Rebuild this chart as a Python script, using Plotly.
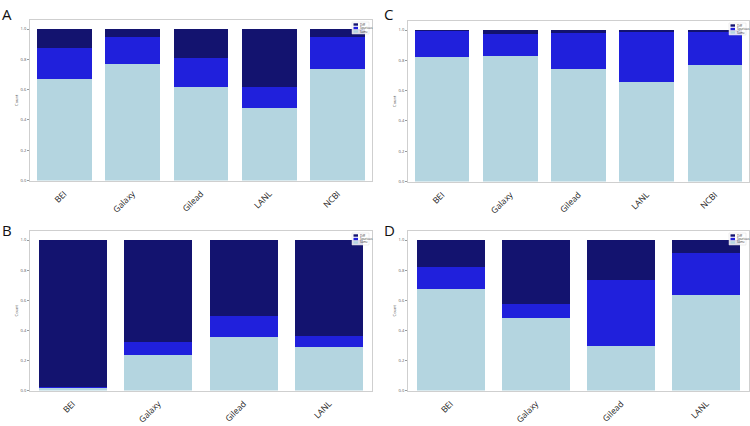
import plotly.graph_objects as go

# ---- data ----
series_names = ["Same", "Spurious", "Diff"]  # bottom -> top
colors = ["#b4d5e0", "#2020dc", "#13136f"]

cats_A = ["BEI", "Galaxy", "Gilead", "LANL", "NCBI"]
same_A = [0.67, 0.768, 0.62, 0.48, 0.735]
spur_A = [0.205, 0.18, 0.19, 0.14, 0.215]

cats_C = ["BEI", "Galaxy", "Gilead", "LANL", "NCBI"]
same_C = [0.823, 0.828, 0.74, 0.655, 0.772]
spur_C = [0.172, 0.145, 0.238, 0.333, 0.218]

cats_B = ["BEI", "Galaxy", "Gilead", "LANL"]
same_B = [0.018, 0.235, 0.355, 0.29]
spur_B = [0.004, 0.085, 0.14, 0.07]

cats_D = ["BEI", "Galaxy", "Gilead", "LANL"]
same_D = [0.675, 0.48, 0.295, 0.635]
spur_D = [0.145, 0.095, 0.44, 0.28]

panel_letters = ["A", "C", "B", "D"]

def rest(a, b):
    return [round(1 - x - y, 4) for x, y in zip(a, b)]

panels = [
    (cats_A, same_A, spur_A),
    (cats_C, same_C, spur_C),
    (cats_B, same_B, spur_B),
    (cats_D, same_D, spur_D),
]

W, H = 750, 426
def fx(px): return px / W
def fy(py): return 1 - py / H

# pixel boxes (left, right, top, bottom)
boxes = [
    (30, 372, 20, 180.5),
    (408, 749, 21, 181.5),
    (30, 372, 231, 390.5),
    (408, 749, 231, 390.5),
]

fig = go.Figure()
layout = dict(
    width=W, height=H, margin=dict(l=0, r=0, t=0, b=0, autoexpand=False),
    plot_bgcolor="white", paper_bgcolor="white",
    barmode="stack", bargap=0.2, showlegend=False,
    font=dict(family="Open Sans, sans-serif"),
)
shapes = []
annotations = []

for i, (cats, same, spur) in enumerate(panels):
    n = i + 1
    xa = "x" if n == 1 else f"x{n}"
    ya = "y" if n == 1 else f"y{n}"
    vals = [same, spur, rest(same, spur)]
    for name, col, v in zip(series_names, colors, vals):
        fig.add_trace(go.Bar(
            x=cats, y=v, name=name, marker=dict(color=col, line=dict(width=0)),
            xaxis=xa, yaxis=ya,
        ))
    L, R, T, B = boxes[i]
    layout["xaxis" if n == 1 else f"xaxis{n}"] = dict(
        domain=[fx(L), fx(R)], anchor=ya, range=[-0.5, len(cats) - 0.5],
        showline=True, linecolor="#cfcfcf", linewidth=1, mirror=True,
        showgrid=False, tickangle=-45, ticks="outside", ticklen=4,
        tickcolor="rgba(0,0,0,0)", automargin=False,
        tickfont=dict(size=8.5, color="#1a1a1a"),
    )
    layout["yaxis" if n == 1 else f"yaxis{n}"] = dict(
        domain=[fy(B), fy(T)], anchor=xa, range=[0, 1.06],
        showline=True, linecolor="#cfcfcf", linewidth=1, mirror=True,
        showgrid=False, zeroline=False, tickvals=[0, 0.2, 0.4, 0.6, 0.8, 1.0],
        tickformat=".1f", ticks="outside", ticklen=2, tickcolor="#999999",
        tickfont=dict(size=4, color="#555555"), automargin=False,
        title=dict(text="Count", font=dict(size=4, color="#555555"), standoff=2),
    )
    # manual mini legend (top-right of each panel)
    lx0, lx1 = R - 20, R - 3
    ly0, ly1 = T + 2, T + 14
    shapes.append(dict(type="rect", xref="paper", yref="paper",
                       x0=fx(lx0), x1=fx(lx1), y0=fy(ly1), y1=fy(ly0),
                       fillcolor="rgba(255,255,255,0.85)",
                       line=dict(color="#dddddd", width=0.5)))
    for k, (name, col) in enumerate(zip(reversed(series_names), reversed(colors))):
        cy = ly0 + 2.5 + k * 3.5
        shapes.append(dict(type="rect", xref="paper", yref="paper",
                           x0=fx(lx0 + 1.5), x1=fx(lx0 + 6), y0=fy(cy + 1.2), y1=fy(cy - 1.2),
                           fillcolor=col, line=dict(width=0)))
        annotations.append(dict(text=name, x=fx(lx0 + 7), y=fy(cy), xref="paper", yref="paper",
                                xanchor="left", yanchor="middle", showarrow=False,
                                borderpad=0, font=dict(size=3, color="#333333")))

letter_pos = [(1, 3), (383, 3), (1, 219), (383, 219)]
for letter, (px, py) in zip(panel_letters, letter_pos):
    annotations.append(dict(
        text=letter, x=fx(px), y=fy(py), xref="paper", yref="paper",
        xanchor="left", yanchor="top", showarrow=False, borderpad=0,
        font=dict(size=15, color="#111111", family="Open Sans, sans-serif"),
    ))
layout["annotations"] = annotations
layout["shapes"] = shapes

fig.update_layout(**layout)
fig.write_html("out.html", config={"displayModeBar": False},
               post_script="document.body.style.margin='0';document.body.style.overflow='hidden';")
